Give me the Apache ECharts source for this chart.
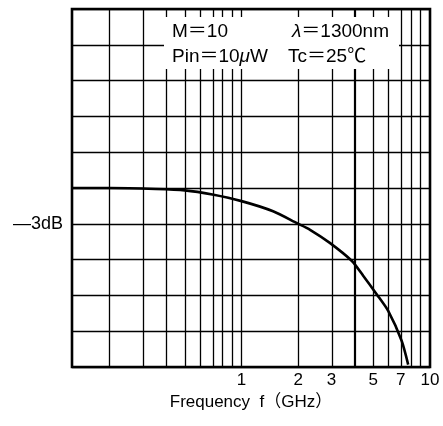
<!DOCTYPE html>
<html>
<head>
<meta charset="utf-8">
<script src="https://cdn.jsdelivr.net/npm/echarts@6/dist/echarts.min.js"></script>
<style>
  html, body { margin: 0; padding: 0; background: #fff; }
  #chart { width: 443px; height: 426px; }
</style>
</head>
<body>
<div id="chart"></div>
<script>
// frequency response (GHz / dB)
const freqs = [0.126, 0.2, 0.35, 0.5, 0.7, 1, 1.47, 1.97, 2.31, 2.94, 3.84, 4.42, 5.21, 6.0, 7.07, 7.66]
const gainDb = [0, 0, -0.08, -0.2, -0.55, -1.1, -1.95, -2.95, -3.5, -4.6, -6.1, -7.35, -8.9, -10.3, -12.8, -14.8]
const gridFreqs = [0.2, 0.3, 0.4, 0.5, 0.6, 0.7, 0.8, 0.9, 1, 2, 3, 4, 5, 6, 7, 8, 9]
const tickFreqs = [1, 2, 3, 5, 7, 10]
const xMin = 0.126
const xMax = 10

const font = '"Liberation Sans", "Noto Sans CJK JP", sans-serif'
const lg = v => Math.log10(v)

const chart = echarts.init(document.getElementById('chart'), null, { renderer: 'canvas' })

const noteRich = {
  a: { fontSize: 19, fontFamily: font, color: '#000' },
  i: { fontSize: 19, fontFamily: font, fontStyle: 'italic', color: '#000' }
}

chart.setOption({
  animation: false,
  backgroundColor: '#fff',
  grid: {
    left: 72, right: 13, top: 9, bottom: 59,
    show: true,
    borderColor: '#000',
    borderWidth: 2.6,
    backgroundColor: 'transparent'
  },
  xAxis: {
    type: 'value',
    min: lg(xMin),
    max: lg(xMax),
    axisLine: { show: false },
    axisTick: { show: false },
    splitLine: { show: false },
    axisLabel: {
      customValues: tickFreqs.map(lg),
      formatter: v => String(Math.round(Math.pow(10, v))),
      color: '#000',
      fontSize: 17,
      fontFamily: font,
      margin: 5,
      showMaxLabel: true
    },
    name: 'Frequency  f\uFF08GHz\uFF09',
    nameLocation: 'middle',
    nameGap: 22,
    nameTextStyle: { color: '#000', fontSize: 17, fontFamily: font }
  },
  yAxis: {
    type: 'value',
    min: -15,
    max: 15,
    interval: 3,
    axisLine: { show: false },
    axisTick: { show: false },
    splitLine: { show: true, lineStyle: { color: '#000', width: 1.3 } },
    axisLabel: {
      customValues: [-3],
      formatter: () => '\u20143dB',
      color: '#000',
      fontSize: 18,
      fontFamily: font,
      margin: 9
    }
  },
  graphic: [
    {
      type: 'rect', z: 100,
      shape: { x: 164, y: 17, width: 235, height: 52 },
      style: { fill: '#fff' }
    },
    { type: 'text', z: 101, x: 172, y: 32,
      style: { text: '{a|M\uFF1D10}', rich: noteRich, verticalAlign: 'middle' } },
    { type: 'text', z: 101, x: 292, y: 32,
      style: { text: '{i|\u03BB}{a|\uFF1D1300nm}', rich: noteRich, verticalAlign: 'middle' } },
    { type: 'text', z: 101, x: 172, y: 57,
      style: { text: '{a|Pin\uFF1D10}{i|\u03BC}{a|W}', rich: noteRich, verticalAlign: 'middle' } },
    { type: 'text', z: 101, x: 288, y: 57,
      style: { text: '{a|Tc\uFF1D25\u2103}', rich: noteRich, verticalAlign: 'middle' } }
  ],
  series: [
    {
      type: 'line',
      data: freqs.map((f, i) => [lg(f), gainDb[i]]),
      smooth: 0.25,
      symbol: 'none',
      lineStyle: { color: '#000', width: 2.6 },
      z: 10,
      markLine: {
        silent: true,
        symbol: 'none',
        label: { show: false },
        lineStyle: { color: '#000', width: 1.3, type: 'solid' },
        data: gridFreqs.map(f => ({ xAxis: lg(f), lineStyle: f === 4 ? { width: 2.2 } : undefined }))
      }
    }
  ]
})
</script>
</body>
</html>
